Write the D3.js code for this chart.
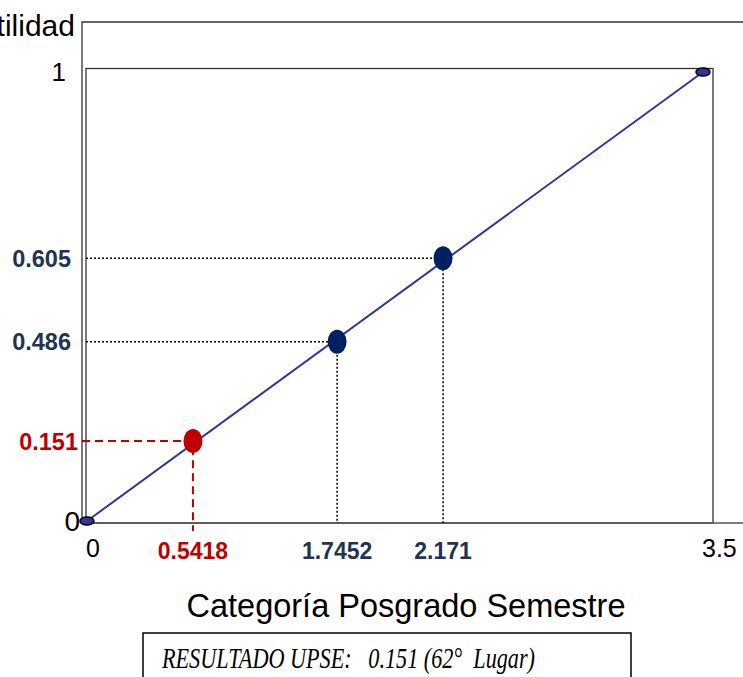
<!DOCTYPE html>
<html>
<head>
<meta charset="utf-8">
<script src="https://cdn.jsdelivr.net/npm/d3@7"></script>
<style>
  body { margin: 0; background: #fff; }
  svg { display: block; font-family: "Liberation Sans", Arial, sans-serif; }
</style>
</head>
<body>
<div id="frame"></div>
<script>
// data
let xValues = [0, 0.5418, 1.7452, 2.171, 3.5];
let utilValues = [0, 0.151, 0.486, 0.605, 1];
let pointKind = ['end', 'upse', 'ref', 'ref', 'end'];
let xLabels = ['0', '0.5418', '1.7452', '2.171', '3.5'];
let yLabels = ['0', '0.151', '0.486', '0.605', '1'];
let yTitle = 'Utilidad';
let xTitle = 'Categoría Posgrado Semestre';
let resultText = 'RESULTADO UPSE:   0.151 (62°  Lugar)';

let width = 743, height = 677;

let svg = d3.select('#frame')
    .append('svg')
    .attr('width', width)
    .attr('height', height);

// schematic (non proportional) axes, piecewise scales
let x0 = 87, x1 = 703, y0 = 521, y1 = 72;
let x = d3.scaleLinear()
    .domain(xValues)
    .range([0, 0.172, 0.406, 0.578, 1].map(f => x0 + f * (x1 - x0)));
let y = d3.scaleLinear()
    .domain(utilValues)
    .range([0, 0.178, 0.399, 0.585, 1].map(f => y0 - f * (y0 - y1)));

let navy = '#1f3352', red = '#c00000', blue = '#333399';
let frameColor = '#333';

// outer frame (left + top)
svg.append('path')
    .attr('d', 'M82,523 V22 H743')
    .attr('fill', 'none')
    .attr('stroke', frameColor)
    .attr('stroke-width', 1.3);

// inner plot box
svg.append('rect')
    .attr('x', 86).attr('y', 68.5)
    .attr('width', 713 - 86).attr('height', 523 - 68.5)
    .attr('fill', 'none')
    .attr('stroke', frameColor)
    .attr('stroke-width', 1.3);

// bottom axis line
svg.append('line')
    .attr('x1', 82).attr('x2', 743)
    .attr('y1', 523).attr('y2', 523)
    .attr('stroke', '#555')
    .attr('stroke-width', 1.3);

// guide lines
let guides = xValues.map((v, i) => ({ x: v, u: utilValues[i], kind: pointKind[i] }))
    .filter(d => d.kind !== 'end');

svg.append('g')
    .selectAll('path')
    .data(guides)
    .enter()
    .append('path')
    .attr('d', d => {
        let bottom = d.kind === 'upse' ? 531 : 523;
        let left = d.kind === 'upse' ? 82 : 86;
        return 'M' + left + ',' + y(d.u) + ' H' + x(d.x) + ' V' + bottom;
    })
    .attr('fill', 'none')
    .attr('stroke', d => d.kind === 'upse' ? red : '#000')
    .attr('stroke-width', d => d.kind === 'upse' ? 2 : 1.5)
    .attr('stroke-dasharray', d => d.kind === 'upse' ? '8,5' : '2,2');

// diagonal
svg.append('line')
    .attr('x1', x(0)).attr('y1', y(0))
    .attr('x2', x(3.5)).attr('y2', y(1))
    .attr('stroke', blue)
    .attr('stroke-width', 2);

// points
let pts = xValues.map((v, i) => ({ x: v, u: utilValues[i], kind: pointKind[i] }));
svg.append('g')
    .selectAll('ellipse')
    .data(pts)
    .enter()
    .append('ellipse')
    .attr('cx', d => x(d.x))
    .attr('cy', d => y(d.u))
    .attr('rx', d => d.kind === 'end' ? 7 : 9.5)
    .attr('ry', d => d.kind === 'end' ? 4 : 12)
    .attr('fill', d => d.kind === 'end' ? blue : d.kind === 'upse' ? red : '#002060')
    .attr('stroke', d => d.kind === 'end' ? '#000' : 'none')
    .attr('stroke-width', 1.5);

// x labels
svg.append('g')
    .selectAll('text')
    .data(xValues)
    .enter()
    .append('text')
    .attr('x', (v, i) => pointKind[i] === 'end' ? x(v) - 1 : x(v))
    .attr('y', (v, i) => pointKind[i] === 'end' ? 557 : 559)
    .attr('text-anchor', (v, i) => pointKind[i] === 'end' ? 'start' : 'middle')
    .style('font-size', (v, i) => pointKind[i] === 'end' ? '25px' : '23px')
    .style('font-weight', (v, i) => pointKind[i] === 'end' ? 'normal' : 'bold')
    .style('fill', (v, i) => pointKind[i] === 'end' ? '#000' : pointKind[i] === 'upse' ? red : navy)
    .text((v, i) => xLabels[i]);

// y labels
svg.append('g')
    .selectAll('text')
    .data(utilValues)
    .enter()
    .append('text')
    .attr('x', (v, i) => v === 0 ? 80 : v === 1 ? 66 : pointKind[i] === 'upse' ? 78 : 71)
    .attr('y', v => y(v))
    .attr('dy', '0.36em')
    .attr('text-anchor', 'end')
    .style('font-size', (v, i) => v === 0 ? '28px' : v === 1 ? '26px' : '23.5px')
    .style('font-weight', (v, i) => pointKind[i] === 'end' ? 'normal' : 'bold')
    .style('fill', (v, i) => pointKind[i] === 'end' ? '#000' : pointKind[i] === 'upse' ? red : navy)
    .text((v, i) => yLabels[i]);

// axis titles
svg.append('text')
    .attr('x', 75).attr('y', 36)
    .attr('text-anchor', 'end')
    .style('font-size', '30px')
    .text(yTitle);

svg.append('text')
    .attr('x', 406).attr('y', 617)
    .attr('text-anchor', 'middle')
    .style('font-size', '32.5px')
    .text(xTitle);

// result box
svg.append('rect')
    .attr('x', 143).attr('y', 633)
    .attr('width', 631 - 143).attr('height', 60)
    .attr('fill', 'none')
    .attr('stroke', '#000')
    .attr('stroke-width', 1.5);

svg.append('text')
    .attr('x', 162).attr('y', 668)
    .attr('textLength', 373)
    .attr('lengthAdjust', 'spacingAndGlyphs')
    .style('font-family', '"Liberation Serif", "DejaVu Serif", serif')
    .style('font-style', 'italic')
    .style('font-size', '30px')
    .style('white-space', 'pre')
    .text(resultText);
</script>
</body>
</html>
